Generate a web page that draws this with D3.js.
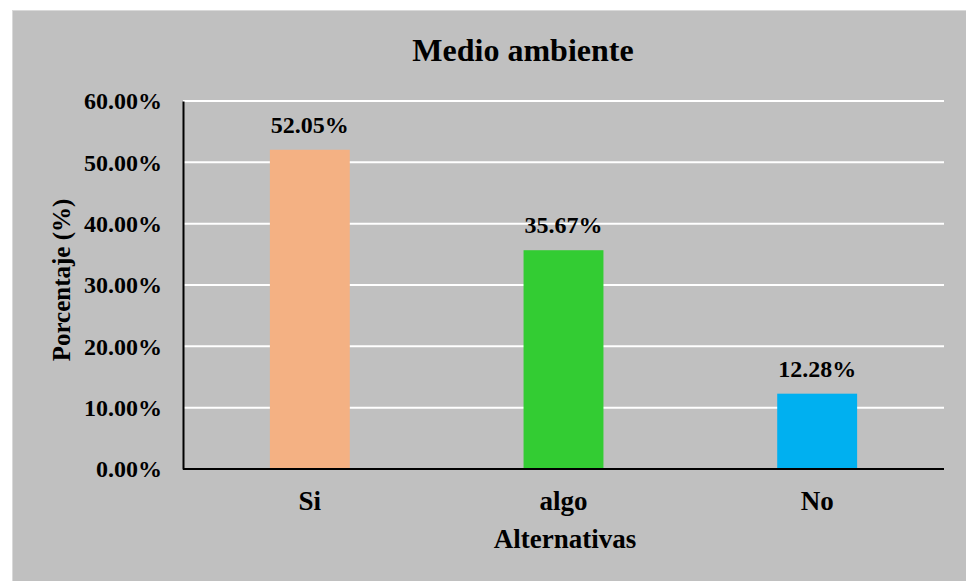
<!DOCTYPE html>
<html>
<head>
<meta charset="utf-8">
<script src="https://cdn.jsdelivr.net/npm/d3@7"></script>
<style>
  html, body { margin: 0; padding: 0; background: #ffffff; }
  svg { display: block; }
  text { font-family: "Liberation Serif", "Times New Roman", serif; font-weight: bold; fill: #000; }
</style>
</head>
<body>
<svg id="chart" width="966" height="581"></svg>
<script>
// Survey answers and their share (%)
const categories = ["Si", "algo", "No"];
const values = [52.05, 35.67, 12.28];
const barColors = ["#f4b183", "#33cc33", "#00b0f0"];
const yTicks = [0, 10, 20, 30, 40, 50, 60];

const svg = d3.select("#chart");
const W = 966, H = 581;

// Chart area background
svg.append("rect")
  .attr("x", 12.5).attr("y", 10.5)
  .attr("width", W).attr("height", H)
  .attr("fill", "#c0c0c0")
  .attr("stroke", "#d9d9d9").attr("stroke-width", 1);

const plot = { left: 183, right: 944, top: 101, bottom: 469 };

const x = d3.scaleBand()
  .domain(categories)
  .range([plot.left, plot.right])
  .paddingInner(0.685)
  .paddingOuter(0.3425);

const y = d3.scaleLinear()
  .domain([0, 60])
  .range([plot.bottom, plot.top]);

// Horizontal gridlines
svg.append("g")
  .selectAll("line")
  .data(yTicks.filter(d => d > 0))
  .join("line")
  .attr("x1", plot.left).attr("x2", plot.right)
  .attr("y1", d => y(d)).attr("y2", d => y(d))
  .attr("stroke", "#ffffff").attr("stroke-width", 2);

// Bars
svg.append("g")
  .selectAll("rect")
  .data(values)
  .join("rect")
  .attr("x", (d, i) => x(categories[i]))
  .attr("y", d => y(d))
  .attr("width", x.bandwidth())
  .attr("height", d => y(0) - y(d))
  .attr("fill", (d, i) => barColors[i]);

// Value labels
svg.append("g")
  .selectAll("text")
  .data(values)
  .join("text")
  .attr("x", (d, i) => x(categories[i]) + x.bandwidth() / 2)
  .attr("y", d => y(d) - 17)
  .attr("text-anchor", "middle")
  .style("font-size", "24px")
  .text(d => d.toFixed(2) + "%");

// Y axis
const yAxis = d3.axisLeft(y)
  .tickValues(yTicks)
  .tickSize(0)
  .tickPadding(21)
  .tickFormat(d => d.toFixed(2) + "%");
const gy = svg.append("g")
  .attr("transform", `translate(${plot.left},0)`)
  .call(yAxis);
gy.select(".domain").attr("stroke", "#000").attr("stroke-width", 2);
gy.selectAll("text")
  .style("font-size", "24px")
  .attr("fill", "#000");

// X axis
const xAxis = d3.axisBottom(x).tickSize(0).tickPadding(22);
const gx = svg.append("g")
  .attr("transform", `translate(0,${plot.bottom})`)
  .call(xAxis);
gx.select(".domain")
  .attr("d", `M${plot.left},0H${plot.right}`)
  .attr("stroke", "#000").attr("stroke-width", 2);
gx.selectAll("text")
  .style("font-size", "27px")
  .attr("fill", "#000");

// Title
svg.append("text")
  .attr("x", 523).attr("y", 61)
  .attr("text-anchor", "middle")
  .style("font-size", "32px")
  .text("Medio ambiente");

// Axis titles
svg.append("text")
  .attr("x", 565).attr("y", 548)
  .attr("text-anchor", "middle")
  .style("font-size", "27px")
  .text("Alternativas");

svg.append("text")
  .attr("transform", "translate(70,280) rotate(-90)")
  .attr("text-anchor", "middle")
  .style("font-size", "25px")
  .text("Porcentaje (%)");
</script>
</body>
</html>
